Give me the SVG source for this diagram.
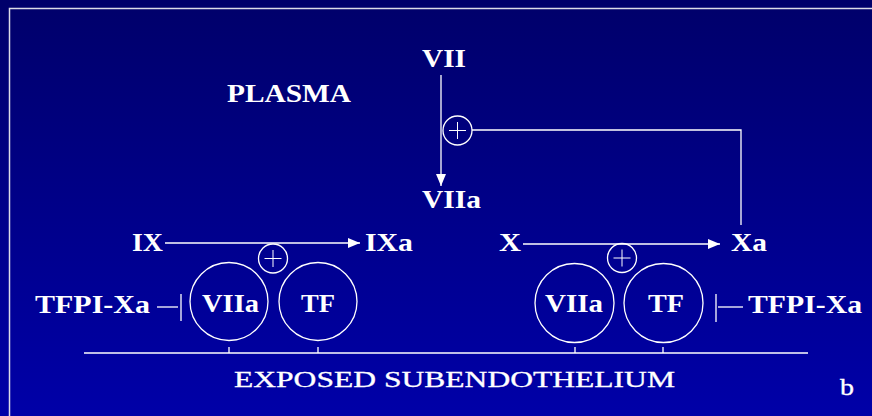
<svg xmlns="http://www.w3.org/2000/svg" width="872" height="416" viewBox="0 0 872 416">
<defs>
<linearGradient id="bg" x1="0" y1="0" x2="0" y2="1">
<stop offset="0" stop-color="#00006a"/>
<stop offset="1" stop-color="#0000a8"/>
</linearGradient>
<marker id="arr" viewBox="0 0 12 10" refX="12" refY="5" markerWidth="12" markerHeight="10" markerUnits="userSpaceOnUse" orient="auto">
<path d="M0,0 L12,5 L0,10 z" fill="#ffffff"/>
</marker>
<style>
.ln{stroke:#ffffff;stroke-width:1.3;fill:none}
.c{stroke:#ffffff;stroke-width:1.3;fill:none}
.b{font-family:"Liberation Serif","DejaVu Serif",serif;font-weight:bold;font-size:25px;fill:#ffffff}
.r{font-family:"Liberation Serif","DejaVu Serif",serif;font-size:23px;fill:#ffffff;stroke:#ffffff;stroke-width:0.3}
.plus{stroke:#ffffff;stroke-width:1;fill:none}
</style>
</defs>
<rect x="0" y="0" width="872" height="416" fill="url(#bg)"/>
<path d="M9.5,416 V8.5 H872" stroke="#dcdce8" stroke-width="1.5" fill="none"/>

<g id="connectors">
<line class="ln" x1="441" y1="75" x2="441" y2="186" marker-end="url(#arr)"/>
<polyline class="ln" points="472,130 741,130 741,225"/>
<line class="ln" x1="165" y1="243" x2="360" y2="243" marker-end="url(#arr)"/>
<line class="ln" x1="523" y1="244" x2="720" y2="244" marker-end="url(#arr)"/>
<line class="ln" x1="157" y1="307" x2="178" y2="307"/>
<line class="ln" x1="181" y1="294" x2="181" y2="321"/>
<line class="ln" x1="716" y1="294" x2="716" y2="322"/>
<line class="ln" x1="718" y1="307" x2="743" y2="307"/>
</g>

<g id="plus-top">
<circle class="c" cx="457.5" cy="130.5" r="14.5"/>
<path class="plus" d="M449,130.5 H466 M457.5,122 V139"/>
</g>
<g id="plus-left">
<circle class="c" cx="273" cy="258.5" r="14.5"/>
<path class="plus" d="M264.5,258.5 H281.5 M273,250 V267"/>
</g>
<g id="plus-right">
<circle class="c" cx="622" cy="258" r="14.5"/>
<path class="plus" d="M613.5,258 H630.5 M622,249.5 V266.5"/>
</g>

<g id="plasma"><text class="b" x="227" y="102" font-size="23" textLength="124" lengthAdjust="spacingAndGlyphs">PLASMA</text></g>
<g id="VII"><text class="b" x="422" y="67" textLength="44" lengthAdjust="spacingAndGlyphs">VII</text></g>
<g id="VIIa-top"><text class="b" x="422" y="208" textLength="59" lengthAdjust="spacingAndGlyphs">VIIa</text></g>
<g id="IX"><text class="b" x="132" y="251" textLength="31" lengthAdjust="spacingAndGlyphs">IX</text></g>
<g id="IXa"><text class="b" x="365" y="251" textLength="48" lengthAdjust="spacingAndGlyphs">IXa</text></g>
<g id="X"><text class="b" x="499" y="251" textLength="22" lengthAdjust="spacingAndGlyphs">X</text></g>
<g id="Xa"><text class="b" x="731" y="251" textLength="36" lengthAdjust="spacingAndGlyphs">Xa</text></g>

<g id="TFPI-left"><text class="b" x="35" y="313" font-size="24" textLength="115" lengthAdjust="spacingAndGlyphs">TFPI-Xa</text></g>
<g id="TFPI-right"><text class="b" x="748" y="313" font-size="24" textLength="114" lengthAdjust="spacingAndGlyphs">TFPI-Xa</text></g>

<g id="VIIa-left">
<circle class="c" cx="229" cy="301.5" r="39"/>
<text class="b" x="202" y="312" textLength="57" lengthAdjust="spacingAndGlyphs">VIIa</text>
</g>
<g id="TF-left">
<circle class="c" cx="318" cy="301.5" r="39"/>
<text class="b" x="301" y="312" textLength="34" lengthAdjust="spacingAndGlyphs">TF</text>
</g>
<g id="VIIa-right">
<circle class="c" cx="574.5" cy="303" r="39.5"/>
<text class="b" x="545" y="312" textLength="58" lengthAdjust="spacingAndGlyphs">VIIa</text>
</g>
<g id="TF-right">
<circle class="c" cx="663.5" cy="303" r="39.5"/>
<text class="b" x="648" y="312" textLength="36" lengthAdjust="spacingAndGlyphs">TF</text>
</g>

<g id="subendothelium">
<line class="ln" x1="84" y1="353" x2="808" y2="353"/>
<path class="ln" d="M229,347 V353 M318,347 V353 M575,347 V353 M663,347 V353"/>
<text class="r" x="234" y="387" textLength="441" lengthAdjust="spacingAndGlyphs">EXPOSED SUBENDOTHELIUM</text>
</g>
<g id="label-b"><text class="r" x="840" y="395" font-size="25" textLength="14" lengthAdjust="spacingAndGlyphs">b</text></g>
</svg>
